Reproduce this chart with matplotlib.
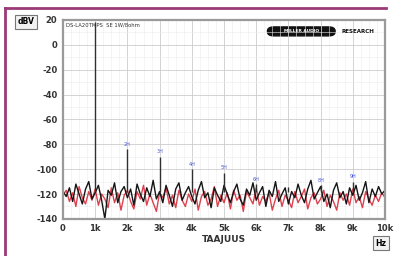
import matplotlib.pyplot as plt
import numpy as np
from matplotlib.patches import FancyBboxPatch

plt.rcParams['axes.unicode_minus'] = False

# noise floor traces (dBV), 0..10 kHz
black = [-118, -122, -115, -126, -112, -120, -128, -116, -110, -124,
         -119, -113, -125, -140, -117, -121, -111, -127, -118, -114,
         -123, -116, -129, -112, -120, -126, -115, -122, -109, -124,
         -118, -127, -113, -121, -130, -116, -111, -125, -119, -114,
         -122, -128, -117, -110, -123, -119, -131, -115, -121, -126,
         -113, -120, -127, -118, -112, -124, -129, -116, -121, -111,
         -125, -119, -114, -130, -117, -122, -110, -126, -120, -115,
         -128, -118, -123, -112, -121, -127, -116, -109, -124, -119,
         -114, -126, -120, -131, -117, -111, -123, -118, -128, -115,
         -121, -113, -125, -119, -110, -127, -116, -122, -114, -120, -117]
red = [-121, -117, -126, -119, -130, -114, -123, -128, -118, -125,
       -116, -129, -120, -124, -131, -115, -127, -119, -133, -121,
       -117, -126, -132, -118, -124, -113, -129, -120, -127, -134,
       -119, -123, -115, -128, -121, -131, -117, -125, -130, -120,
       -126, -116, -133, -122, -118, -129, -124, -114, -130, -121,
       -127, -119, -132, -117, -125, -121, -134, -118, -123, -128,
       -115, -129, -122, -126, -119, -133, -124, -117, -130, -121,
       -125, -131, -118, -127, -122, -116, -132, -123, -119, -128,
       -124, -117, -130, -121, -126, -133, -119, -125, -120, -129,
       -116, -127, -122, -131, -118, -124, -129, -121, -126, -119, -123]
freq = np.linspace(0, 10000, len(black))

harm_freq = [1000, 2000, 3000, 4000, 5000, 6000, 7000, 8000, 9000]
harm_level = [18, -84, -90, -100, -103, -112, -114, -113, -110]
harm_label = ['', '2H', '3H', '4H', '5H', '6H', '', '8H', '9H']

xticks = np.arange(0, 10001, 1000)
xticklabels = ['0', '1k', '2k', '3k', '4k', '5k', '6k', '7k', '8k', '9k', '10k']
yticks = np.arange(-140, 21, 20)

fig = plt.figure(figsize=(4, 2.56), dpi=100)
ax = fig.add_axes([0.1575, 0.145, 0.805, 0.777])

# purple card border (left + top)
fig.add_artist(plt.Line2D([0.012, 0.012], [0, 0.97], color='#9a3a78', lw=2))
fig.add_artist(plt.Line2D([0.012, 0.965], [0.97, 0.97], color='#9a3a78', lw=2))

ax.plot(freq, red, color='#d82030', lw=1.0, alpha=0.85)
ax.plot(freq, black, color='#151515', lw=1.0)
ax.vlines(harm_freq, -118, harm_level, color='#303030', lw=1.0)
for f, lv, lab in zip(harm_freq, harm_level, harm_label):
    if lab:
        ax.text(f, lv + 2, lab, color='#4455dd', fontsize=3.5, ha='center', va='bottom')

ax.set_xlim(0, 10000)
ax.set_ylim(-140, 20)
ax.set_xticks(xticks)
ax.set_xticklabels(xticklabels)
ax.set_yticks(yticks)
ax.set_xticks(np.arange(0, 10001, 250), minor=True)
ax.set_yticks(np.arange(-140, 21, 10), minor=True)
ax.grid(which='major', color='#cccccc', lw=0.6)
ax.grid(which='minor', color='#ececec', lw=0.4)
ax.tick_params(which='both', length=0, labelsize=6, pad=4)
for lab in ax.get_xticklabels() + ax.get_yticklabels():
    lab.set_fontweight('bold')
    lab.set_color('#333333')
for s in ax.spines.values():
    s.set_color('#9a9a9a')
    s.set_linewidth(1.6)

ax.set_xlabel('TAAJUUS', fontsize=6.5, fontweight='bold', color='#333333', labelpad=1)

# unit boxes
fig.text(0.065, 0.915, 'dBV', fontsize=5.5, fontweight='bold', ha='center', va='center',
         bbox=dict(boxstyle='square,pad=0.3', fc='#f2f2f2', ec='#777777', lw=0.8))
fig.text(0.952, 0.05, 'Hz', fontsize=5.5, fontweight='bold', ha='center', va='center',
         bbox=dict(boxstyle='square,pad=0.3', fc='#f2f2f2', ec='#777777', lw=0.8))

# header text and logo
ax.text(0.01, 0.985, 'DS-LA20TMPS  SE 1W/8ohm', transform=ax.transAxes,
        fontsize=3.8, color='#333333', va='top')
ax.add_patch(FancyBboxPatch((0.64, 0.925), 0.2, 0.035, boxstyle='round,pad=0.005,rounding_size=0.02',
                            transform=ax.transAxes, fc='#111111', ec='#111111'))
ax.text(0.74, 0.943, 'MILLER AUDIO', transform=ax.transAxes, fontsize=3.2, color='white',
        fontweight='bold', ha='center', va='center')
ax.text(0.915, 0.943, 'RESEARCH', transform=ax.transAxes, fontsize=4.0, color='#111111',
        fontweight='bold', ha='center', va='center')

fig.savefig('out.png', dpi=100, facecolor='white')
